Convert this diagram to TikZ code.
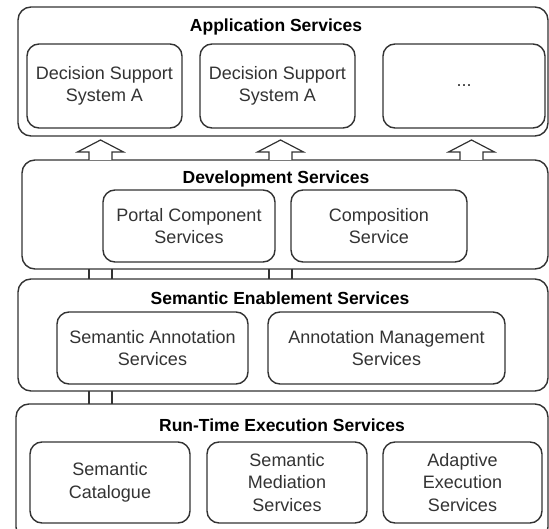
\documentclass[tikz,border=0pt]{standalone}
\usepackage{fontspec}
\setmainfont{Liberation Sans}
\definecolor{linecol}{HTML}{333333}
\definecolor{txtcol}{HTML}{333333}
\tikzset{
  outerbox/.style={draw=linecol, line width=1.4pt, rounded corners=13pt, inner sep=0pt, fill=white},
  innerbox/.style={draw=linecol, line width=1.4pt, rounded corners=12pt, inner sep=0pt, align=center,
    text=txtcol, font=\fontsize{18}{22.5}\selectfont},
  title/.style={inner sep=0pt, text=black, font=\fontsize{17.5}{21}\selectfont\bfseries},
  blockarrow/.style={draw=linecol, line width=1.2pt, fill=white, line join=miter},
  pipe/.style={draw=linecol, line width=1.2pt}
}
\begin{document}
\begin{tikzpicture}[x=1pt,y=-1pt]
\clip (0,0) rectangle (549,529);
\fill[white] (0,0) rectangle (549,529);
% outer layers
\node[outerbox, minimum width=530, minimum height=129] (app) at (283,71.5) {};
\node[outerbox, minimum width=526, minimum height=109] (dev) at (285,214.5) {};
\node[outerbox, minimum width=530, minimum height=112] (ses) at (283,335) {};
\node[outerbox, minimum width=532, minimum height=136] (rte) at (282,472) {};
% titles
\node[title] (appt) at (276,27) {Application Services};
\node[title] (devt) at (276,179) {Development Services};
\node[title] (sest) at (280,298) {Semantic Enablement Services};
\node[title] (rtet) at (282,425) {Run-Time Execution Services};
% inner boxes
\node[innerbox, minimum width=155, minimum height=84] (dss1) at (104.5,86) {Decision Support\\System A};
\node[innerbox, minimum width=155, minimum height=84] (dss2) at (277.5,86) {Decision Support\\System A};
\node[innerbox, minimum width=162, minimum height=84] (dots) at (464,86) {...};
\node[innerbox, minimum width=172, minimum height=72] (portal) at (189,226) {Portal Component\\Services};
\node[innerbox, minimum width=176, minimum height=72] (comp) at (379,226) {Composition\\Service};
\node[innerbox, minimum width=191, minimum height=72] (sann) at (152.5,348) {Semantic Annotation\\Services};
\node[innerbox, minimum width=237, minimum height=72] (amgmt) at (386.5,348) {Annotation Management\\Services};
\node[innerbox, minimum width=160, minimum height=81] (cat) at (110,482.5) {Semantic\\Catalogue};
\node[innerbox, minimum width=160, minimum height=81] (med) at (287,482.5) {Semantic\\Mediation\\Services};
\node[innerbox, minimum width=159, minimum height=81] (ada) at (462.5,482.5) {Adaptive\\Execution\\Services};
% hollow arrows from Development to Application
\coordinate (a1) at (100.5,160);
\coordinate (a2) at (280.5,160);
\coordinate (a3) at (471.5,160);
\foreach \c in {a1,a2,a3}{
  \draw[blockarrow] (\c) ++(-11.5,0) -- ++(0,-8) -- ++(-11.5,0) -- ++(23,-12) -- ++(23,12) -- ++(-11.5,0) -- ++(0,8);
}
% pipes Development -> Semantic Enablement
\coordinate (p1) at (100.5,269);
\coordinate (p2) at (280.5,269);
\foreach \c in {p1,p2}{
  \draw[pipe] (\c) ++(-11.5,0) -- ++(0,10);
  \draw[pipe] (\c) ++(11.5,0) -- ++(0,10);
}
% pipes Semantic Enablement -> Run-Time
\coordinate (p3) at (100.5,391);
\draw[pipe] (p3) ++(-11.5,0) -- ++(0,13);
\draw[pipe] (p3) ++(11.5,0) -- ++(0,13);
\end{tikzpicture}
\end{document}
